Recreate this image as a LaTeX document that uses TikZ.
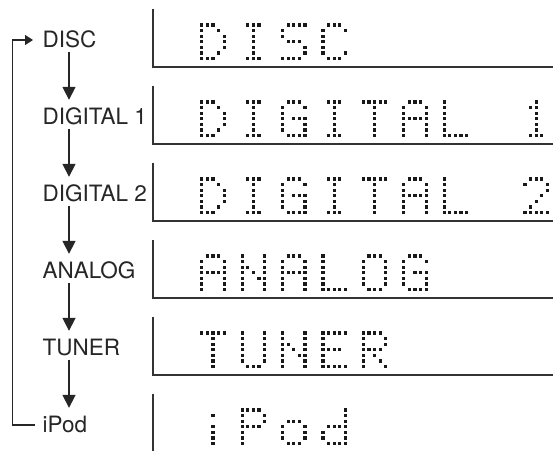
\documentclass[tikz,border=0pt]{standalone}
\usepackage{fontspec}
\setmainfont{TeX Gyre Heros}
\usetikzlibrary{arrows.meta,calc}

\newcount\dmcol \newcount\dmrow
\def\dmX{0}\def\dmY{0}
\def\dmparse#1{%
 \ifx#1\relax\else
  \ifnum#1=1 \fill[dmdot] ({\dmX+\the\dmcol*5.6-1.6},{\dmY+\the\dmrow*5.6-1.6}) rectangle ++(3.2,3.2);\fi
  \advance\dmcol by 1
  \ifnum\dmcol=5 \dmcol=0 \advance\dmrow by 1 \fi
  \expandafter\dmparse
 \fi}
\newcommand\dmstring[3]{%
  \foreach \ch [count=\dmi from 0] in {#3}{%
    \pgfmathsetmacro\dmX{#1+\dmi*40.4}%
    \def\dmY{#2}%
    \dmcol=0 \dmrow=0
    \edef\dmtmp{\csname dmg@\ch\endcsname}%
    \expandafter\dmparse\dmtmp\relax
  }}
\def\dmdef#1#2{\expandafter\def\csname dmg@#1\endcsname{#2}}
\dmdef{sp}{}
\dmdef{D}{11100 10010 10001 10001 10001 10010 11100}
\dmdef{I}{01110 00100 00100 00100 00100 00100 01110}
\dmdef{S}{01111 10000 10000 01110 00001 00001 11110}
\dmdef{C}{01110 10001 10000 10000 10000 10001 01110}
\dmdef{G}{01110 10001 10000 10111 10001 10001 01111}
\dmdef{T}{11111 00100 00100 00100 00100 00100 00100}
\dmdef{A}{01110 10001 10001 11111 10001 10001 10001}
\dmdef{L}{10000 10000 10000 10000 10000 10000 11111}
\dmdef{1}{00100 01100 00100 00100 00100 00100 01110}
\dmdef{2}{01110 10001 00001 00010 00100 01000 11111}
\dmdef{N}{10001 10001 11001 10101 10011 10001 10001}
\dmdef{O}{01110 10001 10001 10001 10001 10001 01110}
\dmdef{U}{10001 10001 10001 10001 10001 10001 01110}
\dmdef{E}{11111 10000 10000 11110 10000 10000 11111}
\dmdef{R}{11110 10001 10001 11110 10100 10010 10001}
\dmdef{i}{00000 00100 00000 00100 00100 00100 00100}
\dmdef{P}{11110 10001 10001 11110 10000 10000 10000}
\dmdef{o}{00000 00000 01110 10001 10001 10001 01110}
\dmdef{d}{00001 00001 00001 01111 10001 10001 01111}

\begin{document}
\begin{tikzpicture}[x=1pt,y=-1pt,
  lab/.style={anchor=west,inner sep=0pt,text height=16pt,text depth=0pt,
    text=black!85,font=\fontsize{22.5}{22.5}\selectfont},
  flow/.style={line width=1.7pt,draw=black!85,-{Triangle[width=13pt,length=13pt]}},
  back/.style={line width=1.4pt,draw=black!85,-{Triangle[width=10pt,length=8pt]}},
  panel/.style={line width=2pt,draw=black!80},
  dmdot/.style={fill=black!90}]
\useasboundingbox (0,0) rectangle (553,450);

% labels
\node[lab] (disc) at (42.5,39.5) {DISC};
\node[lab] (dig1) at (42.5,116.5) {DIGITAL 1};
\node[lab] (dig2) at (42.5,193.5) {DIGITAL 2};
\node[lab] (anlg) at (42.5,270.5) {ANALOG};
\node[lab] (tun)  at (42.5,347.5) {TUNER};
\node[lab] (ipod) at (42.5,424.5) {iPod};
\coordinate (ax) at (69,0);
\coordinate (lx) at (12.7,0);

% flow arrows
\draw[flow] ($(disc.south -| ax)+(0,4)$) -- ($(dig1.north -| ax)+(0,-8.5)$);
\draw[flow] ($(dig1.south -| ax)+(0,4)$) -- ($(dig2.north -| ax)+(0,-8.5)$);
\draw[flow] ($(dig2.south -| ax)+(0,4)$) -- ($(anlg.north -| ax)+(0,-8.5)$);
\draw[flow] ($(anlg.south -| ax)+(0,4)$) -- ($(tun.north -| ax)+(0,-8.5)$);
\draw[flow] ($(tun.south -| ax)+(0,4)$) -- ($(ipod.north -| ax)+(0,-8.5)$);

% loop back
\draw[back] ($(ipod.west)+(-7.5,0.5)$) -- ($(ipod.west -| lx)+(0,0.5)$) -- ($(disc.west -| lx)+(0,0.5)$) -- ($(disc.west)+(-9.5,0.5)$);

% panels
\foreach \k in {0,...,4}{
  \draw[panel] (153,{8.7+77*\k}) -- (153,{66.7+77*\k}) -- (553,{66.7+77*\k});
}
\draw[panel] (153,393.7) -- (153,451);

% display texts
\dmstring{201.7}{25}{D,I,S,C}
\dmstring{201.7}{102}{D,I,G,I,T,A,L,sp,1}
\dmstring{201.7}{179}{D,I,G,I,T,A,L,sp,2}
\dmstring{201.7}{256}{A,N,A,L,O,G}
\dmstring{201.7}{333}{T,U,N,E,R}
\dmstring{201.7}{410}{i,P,o,d}
\end{tikzpicture}
\end{document}
